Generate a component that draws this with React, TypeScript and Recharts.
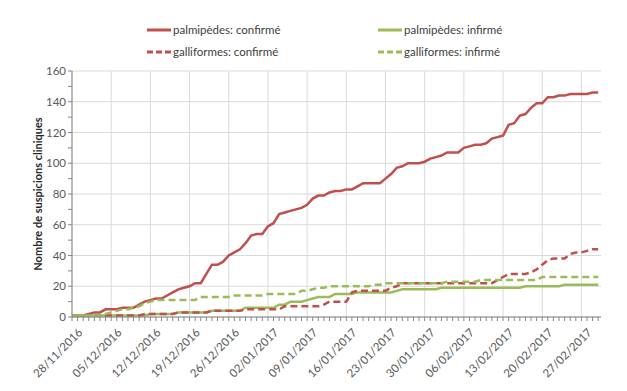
import { CartesianGrid, Line, LineChart, XAxis, YAxis } from "recharts";

// weekly tick labels, one every 7 days starting 28/11/2016
const weekLabels = [
  "28/11/2016", "05/12/2016", "12/12/2016", "19/12/2016", "26/12/2016",
  "02/01/2017", "09/01/2017", "16/01/2017", "23/01/2017", "30/01/2017",
  "06/02/2017", "13/02/2017", "20/02/2017", "27/02/2017",
];

// cumulative daily counts, 28/11/2016 -> 02/03/2017
const palmConf = [
  1, 1, 1, 2, 3, 3, 5, 5, 5, 6,
  6, 6, 8, 10, 11, 12, 12, 14, 16, 18,
  19, 20, 22, 22, 28, 34, 34, 36, 40, 42,
  44, 48, 53, 54, 54, 59, 61, 67, 68, 69,
  70, 71, 73, 77, 79, 79, 81, 82, 82, 83,
  83, 85, 87, 87, 87, 87, 90, 93, 97, 98,
  100, 100, 100, 101, 103, 104, 105, 107, 107, 107,
  110, 111, 112, 112, 113, 116, 117, 118, 125, 126,
  131, 132, 136, 139, 139, 143, 143, 144, 144, 145,
  145, 145, 145, 146, 146,
];

const palmInf = [
  1, 1, 1, 1, 1, 1, 1, 1, 1, 1,
  1, 1, 1, 1, 2, 2, 2, 2, 2, 3,
  3, 3, 3, 3, 3, 4, 4, 4, 4, 4,
  4, 6, 6, 6, 6, 6, 6, 8, 8, 10,
  10, 10, 11, 12, 13, 13, 13, 15, 15, 15,
  15, 16, 16, 16, 16, 16, 16, 16, 17, 18,
  18, 18, 18, 18, 18, 18, 19, 19, 19, 19,
  19, 19, 19, 19, 19, 19, 19, 19, 19, 19,
  19, 20, 20, 20, 20, 20, 20, 20, 21, 21,
  21, 21, 21, 21, 21,
];

const gallConf = [
  1, 1, 1, 1, 1, 1, 1, 1, 1, 1,
  1, 1, 1, 2, 2, 2, 2, 2, 2, 3,
  3, 3, 3, 3, 3, 4, 4, 4, 4, 4,
  4, 5, 5, 5, 5, 5, 5, 5, 7, 7,
  7, 7, 7, 7, 7, 8, 10, 10, 10, 10,
  16, 17, 17, 17, 17, 17, 17, 19, 20, 22,
  22, 22, 22, 22, 22, 22, 22, 22, 22, 22,
  22, 22, 22, 22, 22, 22, 24, 26, 28, 28,
  28, 28, 29, 31, 34, 37, 38, 38, 38, 41,
  42, 42, 43, 44, 44,
];

const gallInf = [
  1, 1, 1, 1, 1, 1, 2, 3, 4, 5,
  5, 6, 7, 9, 10, 11, 11, 11, 11, 11,
  11, 11, 11, 13, 13, 13, 13, 13, 13, 14,
  14, 14, 14, 14, 14, 15, 15, 15, 15, 15,
  15, 17, 17, 18, 19, 19, 20, 20, 20, 20,
  20, 20, 20, 20, 21, 21, 22, 22, 22, 22,
  22, 22, 22, 22, 22, 22, 22, 23, 23, 23,
  23, 23, 23, 24, 24, 24, 24, 24, 24, 24,
  24, 24, 24, 24, 26, 26, 26, 26, 26, 26,
  26, 26, 26, 26, 26,
];

const yTicks = [0, 20, 40, 60, 80, 100, 120, 140, 160];

const RED = "#C0504D";
const GREEN = "#9BBB59";
const TEXT = "#595959";
const FONT = "Lato, 'Liberation Sans', sans-serif";

const data = palmConf.map((v, i) => ({
  day: i,
  palmConf: v,
  palmInf: palmInf[i],
  gallConf: gallConf[i],
  gallInf: gallInf[i],
}));

const dayTicks = data.map((d) => d.day);
const weekTicks = weekLabels.map((_, i) => i * 7);
const yMinor = yTicks.flatMap((v, i) => (i === 0 ? [v] : [v - 10, v]));

function DateTick(props: any) {
  const { x, y, payload } = props;
  if (payload.value % 7 !== 0) return <g />;
  const label = weekLabels[payload.value / 7];
  const ax = x + 8;
  const ay = y + 7;
  return (
    <text
      x={ax}
      y={ay}
      transform={`rotate(-45 ${ax} ${ay})`}
      textAnchor="end"
      dominantBaseline="central"
      fontSize={11.5}
      fontFamily={FONT}
      fill={TEXT}
    >
      {label}
    </text>
  );
}

function ValueTick(props: any) {
  const { x, y, payload } = props;
  if (payload.value % 20 !== 0) return <g />;
  return (
    <text x={x} y={y} dy={4} textAnchor="end" fontSize={11.5} fontFamily={FONT} fill={TEXT}>
      {payload.value}
    </text>
  );
}

function LegendItem({ color, dashed, label, left, top }: any) {
  return (
    <div style={{ position: "absolute", left, top, display: "flex", alignItems: "center" }}>
      <svg width={24} height={6}>
        <line
          x1={0}
          y1={3}
          x2={24}
          y2={3}
          stroke={color}
          strokeWidth={3}
          strokeDasharray={dashed ? "6 3" : undefined}
        />
      </svg>
      <span style={{ marginLeft: 2, fontSize: 11.5, fontFamily: FONT, color: "#404040" }}>{label}</span>
    </div>
  );
}

export default function App() {
  return (
    <div style={{ position: "relative", width: 627, height: 391, background: "#fff" }}>
      <style>{`body{margin:0}`}</style>
      <LineChart width={627} height={391} data={data} margin={{ top: 71, right: 26, bottom: 14, left: 0 }}>
        <CartesianGrid stroke="#d9d9d9" horizontalValues={yTicks} verticalValues={weekTicks} />
        <XAxis
          dataKey="day"
          type="number"
          domain={[0, 94.5]}
          ticks={dayTicks}
          interval={0}
          height={60}
          tickSize={4}
          axisLine={{ stroke: "#868686" }}
          tickLine={{ stroke: "#868686" }}
          tick={<DateTick />}
        />
        <YAxis
          type="number"
          domain={[0, 160]}
          ticks={yMinor}
          interval={0}
          width={72}
          tickSize={4}
          axisLine={{ stroke: "#868686" }}
          tickLine={{ stroke: "#868686" }}
          tick={<ValueTick />}
          label={{
            value: "Nombre de suspicions cliniques",
            angle: -90,
            position: "center",
            dx: 2,
            style: { fontSize: 11, fontWeight: "bold", fontFamily: FONT, fill: "#262626" },
          }}
        />
        <Line type="linear" dataKey="palmConf" stroke={RED} strokeWidth={2.5} dot={false} isAnimationActive={false} />
        <Line type="linear" dataKey="palmInf" stroke={GREEN} strokeWidth={2.5} dot={false} isAnimationActive={false} />
        <Line type="linear" dataKey="gallConf" stroke={RED} strokeWidth={2.5} strokeDasharray="7 4" dot={false} isAnimationActive={false} />
        <Line type="linear" dataKey="gallInf" stroke={GREEN} strokeWidth={2.5} strokeDasharray="7 4" dot={false} isAnimationActive={false} />
      </LineChart>
      <LegendItem color={RED} label="palmipèdes: confirmé" left={147} top={23} />
      <LegendItem color={GREEN} label="palmipèdes: infirmé" left={378} top={23} />
      <LegendItem color={RED} dashed label="galliformes: confirmé" left={147} top={45} />
      <LegendItem color={GREEN} dashed label="galliformes: infirmé" left={378} top={45} />
    </div>
  );
}
